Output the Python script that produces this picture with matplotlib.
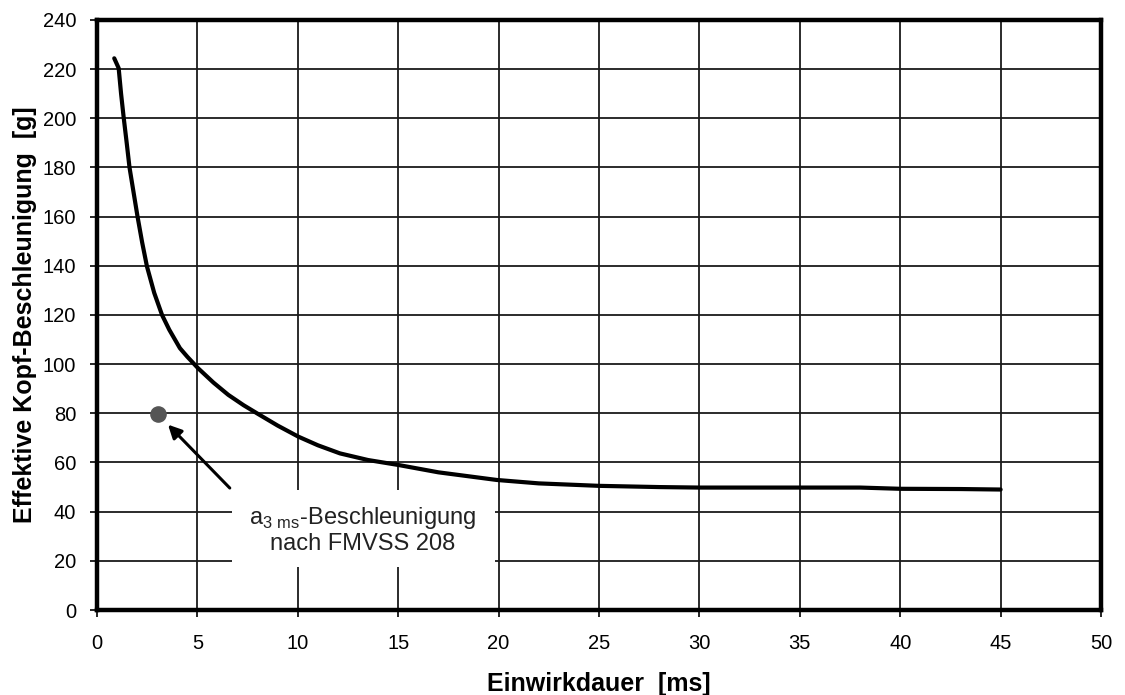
import numpy as np
import matplotlib.pyplot as plt
from matplotlib.patches import Rectangle

plt.rcParams['font.family'] = ['Liberation Sans', 'DejaVu Sans']

# CURVE VALUES
dauer_ms = [0.86, 1.08, 1.2, 1.33, 1.48, 1.62, 1.82, 2.02, 2.25, 2.49, 2.85, 3.24, 3.6,
            4.13, 4.5, 5.04, 5.8, 6.54, 7.3, 8.03, 9, 10.03, 11, 12.1, 13.5, 15, 17,
            19.9, 22, 25, 28, 30, 35, 38, 40, 43, 45]
beschl_g = [224.4, 220.4, 210, 200.3, 190, 180, 170, 160, 149.5, 139.7, 129, 120, 114,
            106.5, 103, 98.3, 92.5, 87.5, 83.3, 79.7, 75, 70.5, 67, 63.7, 61, 59, 56,
            52.9, 51.5, 50.5, 50, 49.8, 49.8, 49.8, 49.3, 49.2, 49]

# FMVSS 208 POINT
punkt_x = [3.05]
punkt_y = [79.7]

x_ticks = list(range(0, 51, 5))
y_ticks = list(range(0, 241, 20))

fig = plt.figure(figsize=(11.25, 6.95), dpi=100)
ax = fig.add_axes([0.0862, 0.1223, 0.8925, 0.849])

ax.plot(dauer_ms, beschl_g, color="black", linewidth=3, solid_capstyle="round",
        solid_joinstyle="round", zorder=3)
ax.scatter(punkt_x, punkt_y, s=120, color="#555555", zorder=4)

ax.annotate(
    "",
    xy=(3.44, 76.2),
    xytext=(6.71, 48.8),
    arrowprops=dict(arrowstyle="-|>", color="black", lw=2.2, mutation_scale=20),
    zorder=5
)

# white label box covering grid
ax.add_patch(Rectangle((6.72, 17.5), 13.1, 31.3, facecolor="white",
                       edgecolor="none", zorder=2))
ax.text(
    13.25, 32.5,
    "a$_{\\mathregular{3\\ ms}}$-Beschleunigung\nnach FMVSS 208",
    ha="center", va="center", fontsize=17, color="#222222", linespacing=1.15,
    zorder=6
)

ax.set_xlim(0, 50)
ax.set_ylim(0, 240)
ax.set_xticks(x_ticks)
ax.set_yticks(y_ticks)
ax.tick_params(labelsize=14.5, length=5, width=1.2, color="black")
ax.tick_params(axis="x", pad=12)
ax.tick_params(axis="y", pad=10)
ax.grid(True, color="#1a1a1a", linewidth=1.3)
ax.set_axisbelow(True)

for s in ax.spines.values():
    s.set_linewidth(3.2)

ax.set_xlabel("Einwirkdauer  [ms]", fontsize=18, fontweight="bold", labelpad=14)
ax.set_ylabel("Effektive Kopf-Beschleunigung  [g]", fontsize=18, fontweight="bold", labelpad=4)

plt.savefig("out.png", dpi=100)
